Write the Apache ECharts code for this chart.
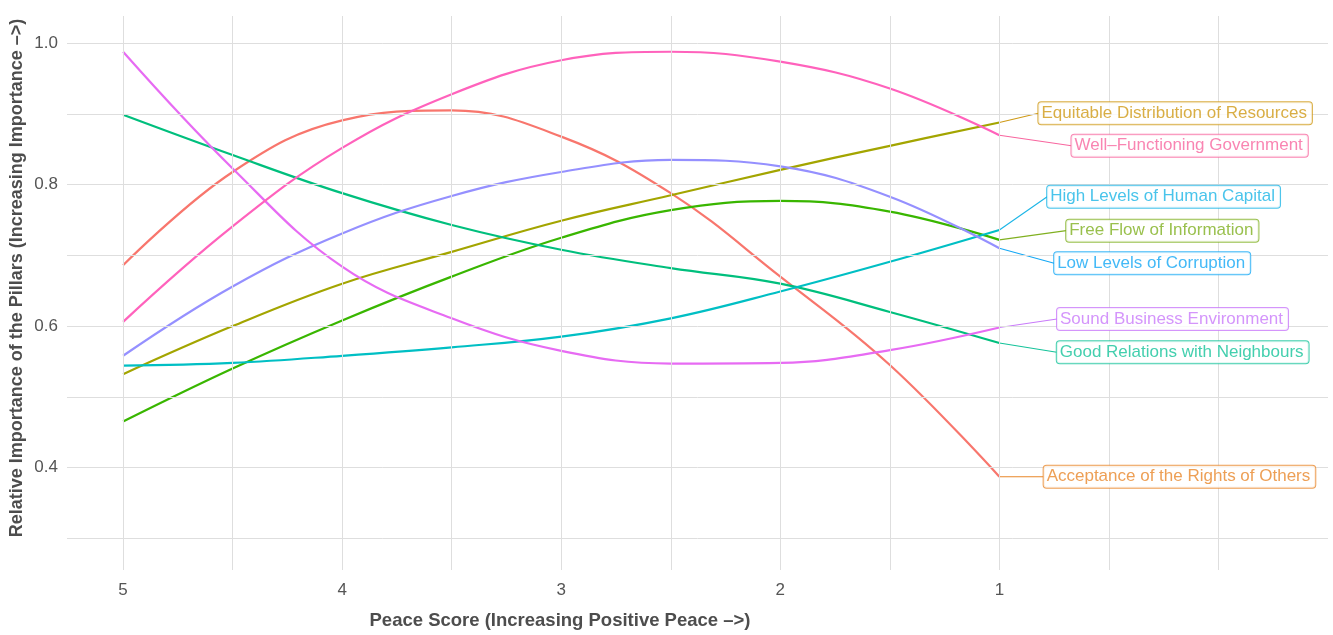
<!DOCTYPE html>
<html>
<head>
<meta charset="utf-8">
<script src="https://cdn.jsdelivr.net/npm/echarts@6/dist/echarts.min.js"></script>
<style>
  html, body { margin: 0; padding: 0; background: #fff; }
  #chart { width: 1333px; height: 635px; }
</style>
</head>
<body>
<div id="chart"></div>
<script>
// ---- data ----
const peaceScore = [5, 4.5, 4, 3.5, 3, 2.5, 2, 1.5, 1];

const acceptance      = [0.686, 0.818, 0.891, 0.905, 0.868, 0.788, 0.670, 0.545, 0.387];
const equitable       = [0.532, 0.600, 0.660, 0.705, 0.749, 0.785, 0.821, 0.855, 0.888];
const freeFlow        = [0.465, 0.540, 0.608, 0.670, 0.725, 0.764, 0.777, 0.762, 0.722];
const goodRelations   = [0.899, 0.842, 0.788, 0.743, 0.708, 0.682, 0.660, 0.620, 0.576];
const humanCapital    = [0.544, 0.548, 0.558, 0.570, 0.585, 0.611, 0.649, 0.691, 0.736];
const lowCorruption   = [0.558, 0.656, 0.731, 0.784, 0.818, 0.835, 0.826, 0.783, 0.710];
const soundBusiness   = [0.988, 0.823, 0.684, 0.611, 0.565, 0.547, 0.548, 0.566, 0.598];
const wellFunctioning = [0.606, 0.741, 0.852, 0.928, 0.976, 0.988, 0.974, 0.936, 0.870];

const pillarNames = [
  'Acceptance of the Rights of Others',
  'Equitable Distribution of Resources',
  'Free Flow of Information',
  'Good Relations with Neighbours',
  'High Levels of Human Capital',
  'Low Levels of Corruption',
  'Sound Business Environment',
  'Well–Functioning Government'
];
const pillarValues = [acceptance, equitable, freeFlow, goodRelations, humanCapital, lowCorruption, soundBusiness, wellFunctioning];

// label anchor (left edge of box, vertical centre) in data coordinates
const labelAnchorX = [0.798, 0.822, 0.695, 0.738, 0.782, 0.750, 0.737, 0.671];
const labelAnchorY = [0.387, 0.901, 0.735, 0.563, 0.783, 0.689, 0.610, 0.855];

const xGridValues = [5, 4.5, 4, 3.5, 3, 2.5, 2, 1.5, 1, 0.5, 0];
const yGridValues = [0.3, 0.4, 0.5, 0.6, 0.7, 0.8, 0.9, 1.0];

// ---- styles ----
const lineColors  = ['#F8766D', '#A3A500', '#39B600', '#00BF7D', '#00BFC4', '#9590FF', '#E76BF3', '#FF62BC'];
const labelColors = ['#E8872A', '#CF9A17', '#80B020', '#14C39A', '#1BB5E6', '#14A8F5', '#C97BFA', '#F8669F'];
const FONT = '"Liberation Sans", Arial, Helvetica, sans-serif';

const series = [];
// gridlines
series.push({
  type: 'line', data: [], z: 1, silent: true,
  markLine: {
    silent: true, animation: false, symbol: ['none', 'none'],
    label: { show: false },
    emphasis: { disabled: true },
    lineStyle: { color: '#dedede', width: 1, type: 'solid' },
    data: xGridValues.map(v => ({ xAxis: v })).concat(yGridValues.map(v => ({ yAxis: v })))
  }
});

pillarValues.forEach((vals, i) => {
  series.push({
    name: pillarNames[i], type: 'line', z: 3,
    smooth: 0.4, showSymbol: false, symbol: 'none',
    lineStyle: { color: lineColors[i], width: 2.2 },
    itemStyle: { color: lineColors[i] },
    data: peaceScore.map((x, j) => [x, vals[j]])
  });
});

pillarValues.forEach((vals, i) => {
  const last = vals[vals.length - 1];
  series.push({
    type: 'line', z: 4, silent: true, showSymbol: false, symbol: 'none',
    lineStyle: { color: labelColors[i], width: 1.1 },
    data: [[peaceScore[peaceScore.length - 1], last], [labelAnchorX[i], labelAnchorY[i]]]
  });
  series.push({
    type: 'scatter', z: 5, silent: true, symbolSize: 0,
    data: [[labelAnchorX[i], labelAnchorY[i]]],
    label: {
      show: true, position: 'right', distance: 0,
      formatter: pillarNames[i],
      color: labelColors[i], fontSize: 17, fontFamily: FONT,
      backgroundColor: '#fff', borderColor: labelColors[i], borderWidth: 1, borderRadius: 3,
      padding: [3, 5, 2, 3]
    }
  });
});

const chart = echarts.init(document.getElementById('chart'), null, { renderer: 'canvas' });
chart.setOption({
  animation: false,
  backgroundColor: '#ffffff',
  grid: { left: 67, right: 5, top: 16, bottom: 65, containLabel: false },
  xAxis: {
    type: 'value', inverse: true, min: -0.5, max: 5.256, interval: 0.5,
    axisLine: { show: false }, axisTick: { show: false }, splitLine: { show: false },
    axisLabel: {
      margin: 12, fontSize: 17, color: '#555', fontFamily: FONT,
      formatter: v => (Math.abs(v - Math.round(v)) < 1e-6 && v >= 1 && v <= 5) ? String(Math.round(v)) : ''
    }
  },
  yAxis: {
    type: 'value', min: 0.255, max: 1.0386, minInterval: 0.2, maxInterval: 0.2,
    axisLine: { show: false }, axisTick: { show: false }, splitLine: { show: false },
    axisLabel: {
      margin: 9, fontSize: 17, color: '#555', fontFamily: FONT,
      formatter: v => (Math.abs(v * 5 - Math.round(v * 5)) < 1e-6) ? v.toFixed(1) : ''
    }
  },
  graphic: [
    {
      type: 'text', x: 560, y: 621,
      style: { text: 'Peace Score (Increasing Positive Peace –>)', align: 'center', verticalAlign: 'middle',
               font: 'bold 18.5px ' + FONT, fill: '#4d4d4d' }
    },
    {
      type: 'text', x: 17, y: 278, rotation: Math.PI / 2,
      style: { text: 'Relative Importance of the Pillars (Increasing Importance –>)', align: 'center', verticalAlign: 'middle',
               font: 'bold 18px ' + FONT, fill: '#4d4d4d' }
    }
  ],
  series: series
});
</script>
</body>
</html>
